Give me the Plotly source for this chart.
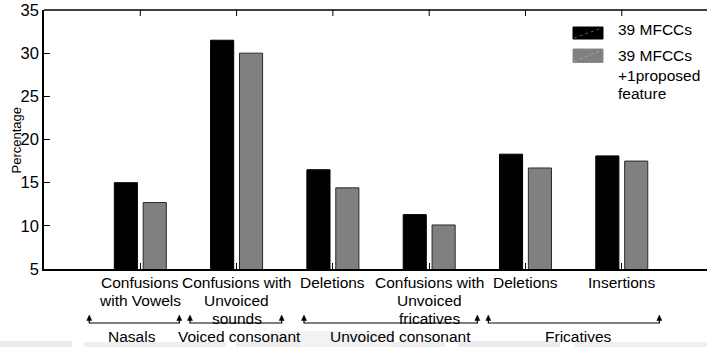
import plotly.graph_objects as go

# ---- data -------------------------------------------------------------
category_lines = [
    ["Confusions", "with Vowels"],
    ["Confusions with", "Unvoiced", "sounds"],
    ["Deletions"],
    ["Confusions with", "Unvoiced", "fricatives"],
    ["Deletions"],
    ["Insertions"],
]
series_names = ["39 MFCCs", "39 MFCCs +1proposed feature"]
mfcc39 = [15.0, 31.5, 16.5, 11.3, 18.3, 18.1]
mfcc39_proposed = [12.7, 30.0, 14.4, 10.1, 16.7, 17.5]
y_ticks = [5, 10, 15, 20, 25, 30, 35]
group_names = ["Nasals", "Voiced consonant", "Unvoiced consonant", "Fricatives"]

# ---- layout constants ---------------------------------------------------
W, H = 707, 347
ML, MR, MT, MB = 44, 0, 10, 78
PW, PH = W - ML - MR, H - MT - MB
X_RANGE = [0, 6.885]
FONT = "Liberation Sans, Arial, Helvetica, sans-serif"
FS = 15.5
BAR_W = 0.24
BLACK, GREY = "#000000", "#808080"

# bracket spans and label centres in category units
group_spans = [(0.47, 1.405), (1.516, 2.468), (2.70, 4.50), (4.614, 6.39)]
group_label_x = [0.914, 2.03, 3.70, 5.55]


def py(p):
    """pixel row -> paper y"""
    return (H - MB - p) / PH


def px(p):
    """pixel column -> paper x"""
    return (p - ML) / PW


def ux(n):
    """pixel width -> x units"""
    return n * (X_RANGE[1] - X_RANGE[0]) / PW


xpos = list(range(1, len(mfcc39) + 1))

fig = go.Figure()
fig.add_trace(go.Bar(
    x=xpos, y=mfcc39, name=series_names[0], width=BAR_W, offset=-0.27,
    marker=dict(color=BLACK, line=dict(color="#000000", width=1)),
))
fig.add_trace(go.Bar(
    x=xpos, y=mfcc39_proposed, name=series_names[1], width=BAR_W, offset=0.03,
    marker=dict(color=GREY, line=dict(color="#2a2a2a", width=1)),
))

shapes = []
annotations = []

# faint scanner haze along the bottom edge
haze = [(0, 72, 341, "#ececec"), (84, 226, 342, "#eeeeee"), (270, 393, 331, "#f2f2f2"),
        (236, 300, 342, "#ededed"), (393, 445, 342, "#eeeeee"), (458, 560, 341, "#ececec"),
        (575, 707, 342, "#efefef")]
for x0, x1, y0, c in haze:
    shapes.append(dict(type="rect", xref="paper", yref="paper", layer="below",
                       x0=px(x0), x1=px(x1), y0=py(347), y1=py(y0),
                       fillcolor=c, line=dict(width=0)))

# top frame line and top ticks
shapes.append(dict(type="line", xref="paper", yref="paper", x0=0, x1=1, y0=1, y1=1,
                   line=dict(color="black", width=1.5)))
for x in xpos:
    shapes.append(dict(type="line", xref="x", yref="paper", x0=x, x1=x,
                       y0=1, y1=1 - 6 / PH, line=dict(color="black", width=1)))

# category labels under the axis
line_rows = [282, 300, 318]
for x, lines in zip(xpos, category_lines):
    for row, txt in zip(line_rows, lines):
        annotations.append(dict(x=x, y=py(row), xref="x", yref="paper", text=txt,
                                showarrow=False, xanchor="center", yanchor="middle",
                                font=dict(family=FONT, size=FS, color="black")))

# group brackets with upward arrows
BR_Y, STUB_Y, TIP_Y = 323, 320, 315
for (a, b), name, lx in zip(group_spans, group_names, group_label_x):
    shapes.append(dict(type="path", xref="x", yref="paper",
                       path=f"M{a},{py(STUB_Y)} L{a},{py(BR_Y)} L{b},{py(BR_Y)} L{b},{py(STUB_Y)}",
                       line=dict(color="black", width=1.2)))
    for e in (a, b):
        shapes.append(dict(type="path", xref="x", yref="paper",
                           path=f"M{e - ux(2.5)},{py(STUB_Y + 0.5)} L{e},{py(TIP_Y)} L{e + ux(2.5)},{py(STUB_Y + 0.5)} Z",
                           fillcolor="black", line=dict(color="black", width=0.5)))
    annotations.append(dict(x=lx, y=py(336), xref="x", yref="paper", text=name,
                            showarrow=False, xanchor="center", yanchor="middle",
                            font=dict(family=FONT, size=FS, color="black")))

# legend block
legend_items = [
    (BLACK, "#000000", "#9a9a9a", 27, 39, [series_names[0]], [30]),
    (GREY, "#8a8a8a", "#bdbdbd", 49, 62.5, ["39 MFCCs", "+1proposed", "feature"], [56, 75, 93.5]),
]
for fill, edge, diag, top, bot, lines, rows in legend_items:
    shapes.append(dict(type="rect", xref="paper", yref="paper",
                       x0=px(573), x1=px(603), y0=py(bot), y1=py(top),
                       fillcolor=fill, line=dict(color=edge, width=1)))
    shapes.append(dict(type="line", xref="paper", yref="paper",
                       x0=px(574), x1=px(602), y0=py(bot - 1), y1=py(top + 1),
                       line=dict(color=diag, width=0.6, dash="dot")))
    for txt, row in zip(lines, rows):
        annotations.append(dict(x=px(616), y=py(row), xref="paper", yref="paper", text=txt,
                                showarrow=False, xanchor="left", yanchor="middle",
                                font=dict(family=FONT, size=FS, color="black")))

# y-axis title
annotations.append(dict(x=px(15.5), y=py(140), xref="paper", yref="paper", text="Percentage",
                        showarrow=False, textangle=-90, xanchor="center", yanchor="middle",
                        font=dict(family=FONT, size=13, color="black")))

fig.update_layout(
    width=W, height=H,
    margin=dict(l=ML, r=MR, t=MT, b=MB, pad=0),
    paper_bgcolor="white", plot_bgcolor="white",
    barmode="overlay", showlegend=False,
    shapes=shapes, annotations=annotations,
    font=dict(family=FONT, size=FS, color="black"),
)
fig.update_xaxes(
    range=X_RANGE, tickvals=xpos, showticklabels=False,
    ticks="inside", ticklen=6, tickwidth=1, tickcolor="black",
    showline=True, linecolor="black", linewidth=1.5,
    showgrid=False, zeroline=False, fixedrange=True,
)
fig.update_yaxes(
    range=[5, 35], tickvals=y_ticks,
    ticks="inside", ticklen=6, tickwidth=1, tickcolor="black",
    tickfont=dict(family=FONT, size=16.5, color="black"),
    showline=True, linecolor="black", linewidth=1.5,
    showgrid=False, zeroline=False, fixedrange=True,
)

fig.write_html("out.html", config={"displayModeBar": False})
